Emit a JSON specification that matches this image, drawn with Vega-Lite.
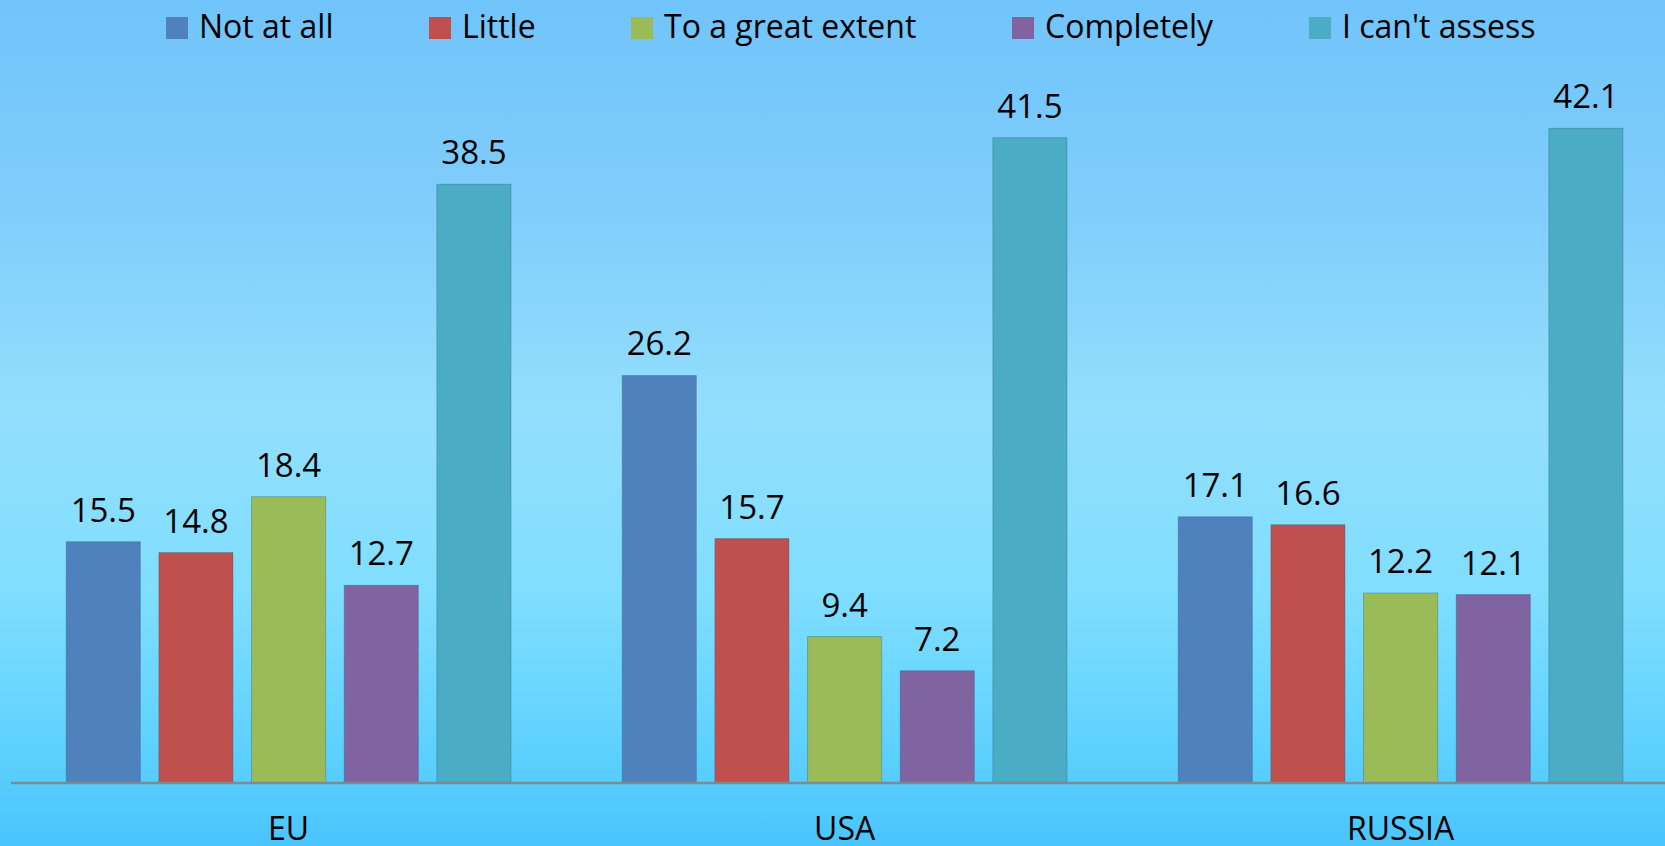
{
  "$schema": "https://vega.github.io/schema/vega-lite/v6.json",
  "width": 1665,
  "height": 846,
  "padding": 0,
  "autosize": {"type": "none"},
  "background": "#7fd5fc",
  "config": {
    "font": "Open Sans",
    "view": {
      "stroke": null,
      "fill": {
        "gradient": "linear",
        "x1": 0, "y1": 0, "x2": 0, "y2": 1,
        "stops": [
          {"offset": 0, "color": "#71c4fa"},
          {"offset": 0.25, "color": "#7fcdfb"},
          {"offset": 0.48, "color": "#93defd"},
          {"offset": 0.7, "color": "#80defe"},
          {"offset": 0.86, "color": "#62d3fe"},
          {"offset": 1, "color": "#49c5fd"}
        ]
      }
    }
  },
  "data": {
    "values": [
      {"region": "EU", "category": "Not at all", "value": 15.5},
      {"region": "EU", "category": "Little", "value": 14.8},
      {"region": "EU", "category": "To a great extent", "value": 18.4},
      {"region": "EU", "category": "Completely", "value": 12.7},
      {"region": "EU", "category": "I can't assess", "value": 38.5},
      {"region": "USA", "category": "Not at all", "value": 26.2},
      {"region": "USA", "category": "Little", "value": 15.7},
      {"region": "USA", "category": "To a great extent", "value": 9.4},
      {"region": "USA", "category": "Completely", "value": 7.2},
      {"region": "USA", "category": "I can't assess", "value": 41.5},
      {"region": "RUSSIA", "category": "Not at all", "value": 17.1},
      {"region": "RUSSIA", "category": "Little", "value": 16.6},
      {"region": "RUSSIA", "category": "To a great extent", "value": 12.2},
      {"region": "RUSSIA", "category": "Completely", "value": 12.1},
      {"region": "RUSSIA", "category": "I can't assess", "value": 42.1}
    ]
  },
  "encoding": {
    "x": {
      "field": "region",
      "type": "nominal",
      "sort": ["EU", "USA", "RUSSIA"],
      "scale": {"range": [10.6, 1678.6], "paddingInner": 0.2, "paddingOuter": 0.1},
      "axis": {
        "orient": "bottom",
        "offset": -63.4,
        "title": null,
        "ticks": false,
        "tickSize": 0,
        "labelPadding": 32,
        "labelFontSize": 32,
        "labelFont": "Open Sans",
        "labelColor": "#000000",
        "labelAngle": 0,
        "domainColor": "#7d8a92",
        "domainWidth": 2.5,
        "grid": false,
        "zindex": 1
      }
    },
    "xOffset": {
      "field": "category",
      "type": "nominal",
      "sort": ["Not at all", "Little", "To a great extent", "Completely", "I can't assess"],
      "scale": {"paddingInner": 0.2, "paddingOuter": 0}
    },
    "y": {
      "field": "value",
      "type": "quantitative",
      "scale": {"domain": [-4.08, 50.36], "nice": false, "zero": false},
      "axis": null
    }
  },
  "layer": [
    {
      "mark": {"type": "bar", "stroke": "#2f5f78", "strokeOpacity": 0.35, "strokeWidth": 1},
      "encoding": {
        "y2": {"datum": 0},
        "color": {
          "field": "category",
          "type": "nominal",
          "sort": ["Not at all", "Little", "To a great extent", "Completely", "I can't assess"],
          "scale": {
            "domain": ["Not at all", "Little", "To a great extent", "Completely", "I can't assess"],
            "range": ["#4f81bd", "#c0504d", "#9bbb59", "#8064a2", "#4bacc6"]
          },
          "legend": {
            "orient": "none",
            "legendX": 161,
            "legendY": 12,
            "direction": "horizontal",
            "columns": 5,
            "title": null,
            "symbolType": "square",
            "symbolSize": 484,
            "symbolStrokeWidth": 0,
            "symbolOpacity": 1,
            "labelFontSize": 32,
            "labelFont": "Open Sans",
            "labelColor": "#000000",
            "labelOffset": 6,
            "labelLimit": 500,
            "columnPadding": 90,
            "padding": 0
          }
        }
      }
    },
    {
      "mark": {"type": "text", "baseline": "alphabetic", "dy": -20, "fontSize": 33, "font": "Open Sans", "color": "#000000"},
      "encoding": {
        "text": {"field": "value", "type": "quantitative", "format": ".1f"}
      }
    }
  ]
}
